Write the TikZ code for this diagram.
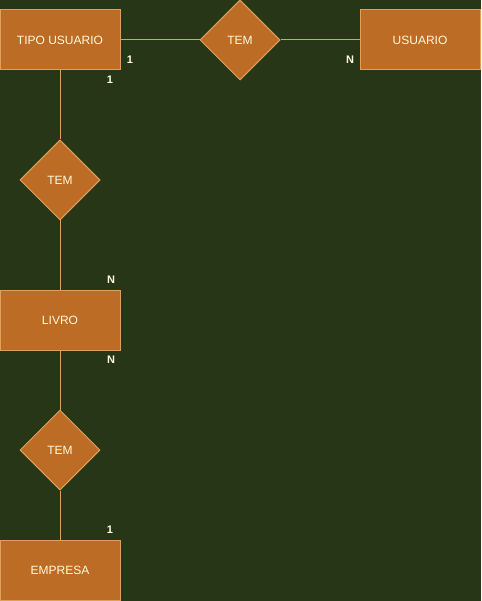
\documentclass[tikz,border=0pt]{standalone}
\usepackage{fontspec}
\setmainfont{Liberation Sans}
\usetikzlibrary{shapes.geometric}
\definecolor{bg}{HTML}{283618}
\definecolor{boxfill}{HTML}{BC6C25}
\definecolor{boxline}{HTML}{DDA15E}
\definecolor{txt}{HTML}{FEFAE0}
\tikzset{
  entity/.style={draw=boxline, fill=boxfill, line width=1pt, minimum width=120pt, minimum height=60pt, inner sep=0pt, text=txt, font=\fontsize{12}{14}\selectfont},
  rel/.style={diamond, draw=boxline, fill=boxfill, line width=1pt, minimum width=80pt, minimum height=80pt, inner sep=0pt, text=txt, font=\fontsize{12}{14}\selectfont},
  conn/.style={draw=boxline, line width=1pt},
  card/.style={text=txt, font=\bfseries\fontsize{11}{13}\selectfont, inner sep=0pt}
}
\begin{document}
\begin{tikzpicture}[x=1pt,y=-1pt]
\fill[bg] (0,0) rectangle (481,601);
\useasboundingbox (0,0) rectangle (481,601);
\node[entity] (tipo) at (60,40) {TIPO USUARIO};
\node[rel] (tem1) at (240,40) {TEM};
\node[entity] (usuario) at (420,40) {USUARIO};
\node[rel] (tem2) at (60,180) {TEM};
\node[entity] (livro) at (60,320) {LIVRO};
\node[rel] (tem3) at (60,450) {TEM};
\node[entity] (empresa) at (60,570) {EMPRESA};
\draw[conn] (tipo.east) -- (tem1.west);
\draw[conn] (tem1.east) -- (usuario.west);
\draw[conn] (tipo.south) -- (tem2.north);
\draw[conn] (tem2.south) -- (livro.north);
\draw[conn] (livro.south) -- (tem3.north);
\draw[conn] (tem3.south) -- (empresa.north);
\node[card] (c1) at (130,60) {1};
\node[card] (c2) at (350,60) {N};
\node[card] (c3) at (110,80) {1};
\node[card] (c4) at (111,280) {N};
\node[card] (c5) at (111,360) {N};
\node[card] (c6) at (110,530) {1};
\end{tikzpicture}
\end{document}
